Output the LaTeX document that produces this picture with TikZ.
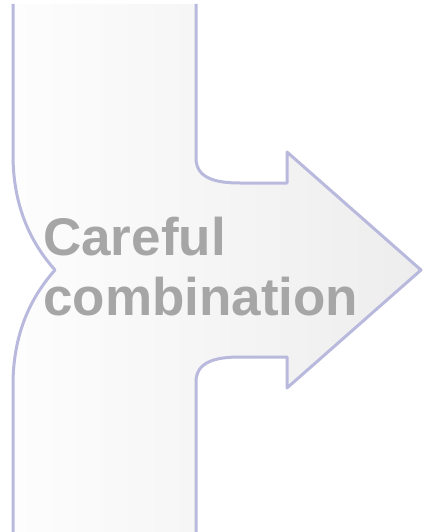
\documentclass[tikz,border=0pt]{standalone}
\usepackage{fontspec}
\setmainfont{Liberation Sans}
\definecolor{lilac}{HTML}{B9B9DE}
\definecolor{paleleft}{HTML}{FDFDFD}
\definecolor{paleright}{HTML}{EDEDED}
\definecolor{greytext}{HTML}{A6A6A6}
\tikzset{band/.style={draw=lilac,line width=3pt,line join=round},
bandfill/.style={left color=paleleft,right color=paleright,shading angle=90},
caption/.style={anchor=north west,inner sep=0pt,align=left,text=greytext,font=\fontsize{53}{60}\selectfont\bfseries}}

\begin{document}
\begin{tikzpicture}[x=1pt,y=-1pt]
\useasboundingbox (0,0) rectangle (424,532);
% coordinates of the outline
\coordinate (tl) at (13,4);
\coordinate (bl) at (13,532);
\coordinate (notch) at (55,270);
\coordinate (tr) at (196,4);
\coordinate (br) at (196,532);
\coordinate (tip) at (421,270);
% fill
\shade[bandfill] (tl) -- (13,155) .. controls (13,205) and (30,242) .. (notch)
  .. controls (30,298) and (13,335) .. (13,385) -- (bl) -- (br) -- (196,382)
  .. controls (196,362) and (215,357) .. (240,357) -- (287,357) -- (287,388) -- (tip)
  -- (287,152) -- (287,183) -- (240,183) .. controls (215,183) and (196,178) .. (196,158)
  -- (tr) -- cycle;
% left side
\draw[band] (tl) -- (13,155) .. controls (13,205) and (30,242) .. (notch)
  .. controls (30,298) and (13,335) .. (13,385) -- (bl);
% right side with arrow
\draw[band] (tr) -- (196,158) .. controls (196,178) and (215,183) .. (240,183) -- (287,183)
  -- (287,152) -- (tip) -- (287,388) -- (287,357) -- (240,357)
  .. controls (215,357) and (196,362) .. (196,382) -- (br);
\node[caption] (label) at (43,216.5) {Careful\\combination};
\end{tikzpicture}
\end{document}
